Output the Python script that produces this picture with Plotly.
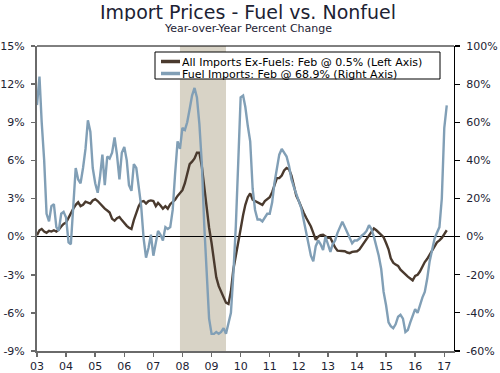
import pandas as pd
import plotly.graph_objects as go

# ---------------- data (monthly, Jan 2003 - Feb 2017) ----------------
start_month = "2003-01-01"

ex_fuel = [  # All Imports Ex-Fuels, YoY % (left axis)
    0.1, 0.5, 0.6, 0.4, 0.3, 0.45, 0.4, 0.5, 0.4, 0.55, 0.8, 1.0,          # 2003
    1.1, 1.5, 1.9, 2.2, 2.5, 2.7, 2.4, 2.5, 2.75, 2.7, 2.6, 2.85,          # 2004
    2.95, 2.8, 2.6, 2.35, 2.2, 2.05, 1.9, 1.4, 1.25, 1.45, 1.55, 1.3,      # 2005
    1.05, 0.85, 0.7, 0.6, 1.3, 1.9, 2.4, 2.75, 2.8, 2.6, 2.8, 2.85,        # 2006
    2.8, 2.4, 2.65, 2.45, 2.2, 2.4, 2.2, 2.55, 2.7, 2.9, 3.2, 3.4,         # 2007
    3.65, 4.2, 4.95, 5.7, 5.9, 6.15, 6.6, 6.6, 5.5, 3.8, 2.1, 0.7,         # 2008
    -0.5, -1.8, -3.2, -3.9, -4.3, -4.8, -5.2, -5.3, -4.3, -2.6, -1.4, -0.6,  # 2009
    0.6, 1.7, 2.5, 3.1, 3.4, 2.9, 2.8, 2.7, 2.6, 2.5, 2.8, 2.95,           # 2010
    3.1, 3.5, 4.0, 4.6, 4.6, 4.8, 5.2, 5.4, 5.3, 4.8, 4.0, 3.2,            # 2011
    2.8, 2.3, 1.9, 1.5, 1.2, 0.8, 0.3, -0.25, 0.0, 0.12, 0.15, 0.05,       # 2012
    -0.1, -0.1, -0.5, -0.85, -1.1, -1.1, -1.1, -1.15, -1.25, -1.3, -1.2, -1.15,  # 2013
    -1.15, -1.0, -0.75, -0.5, -0.2, 0.1, 0.4, 0.65, 0.5, 0.3, 0.1, -0.05,  # 2014
    -0.5, -1.0, -1.7, -2.05, -2.2, -2.3, -2.6, -2.8, -3.0, -3.15, -3.3, -3.45,  # 2015
    -3.1, -3.0, -2.75, -2.3, -2.0, -1.75, -1.4, -1.05, -0.7, -0.45, -0.3, -0.1,  # 2016
    0.2, 0.5,                                                               # 2017
]

fuel = [  # Fuel Imports, YoY % (right axis)
    69, 84, 60, 40, 12, 8, 16, 17, 5, 3, 12, 13,            # 2003
    10, -3, -4, 15, 36, 30, 28, 36, 46, 61, 55, 36,         # 2004
    28, 23, 31, 43, 27, 42, 41, 44, 52, 43, 30, 44,         # 2005
    47, 40, 27, 24, 38, 36, 27, 16, -1, -11, -6, 1,         # 2006
    -10, -3, 3, 1, -2, 5, 4, 5, 14, 33, 50, 46,             # 2007
    57, 56, 60, 67, 74, 78, 73, 59, 38, 6, -19, -43,        # 2008
    -51, -51, -50, -51, -50, -48, -51, -45, -40, -20, 5, 38,  # 2009
    73, 74, 68, 58, 50, 25, 14, 9, 9, 8, 10, 12,            # 2010
    12, 18, 28, 37, 43, 46, 44, 42, 37, 30, 26, 22,         # 2011
    19, 15, 9, 3, -4, -10, -13, -5, -2, -4, -7, 0,          # 2012
    -4, -8, -4, -2, 2, 5, 7.8, 5, 2, -1, -3.5, -2,          # 2013
    -2, -1, 0.5, 1.5, 3, 6, 4, 0, -5, -10, -17, -29,        # 2014
    -36, -45, -47, -48, -46, -42, -41, -43, -50, -49, -45, -42,  # 2015
    -38, -40, -36, -32, -29, -22, -13, -7, -1, 2, 5, 20,    # 2016
    57, 68.9,                                               # 2017
]

recession = ["2007-12-01", "2009-07-01"]
left_ticks = [-9, -6, -3, 0, 3, 6, 9, 12, 15]
right_ticks = [-60, -40, -20, 0, 20, 40, 60, 80, 100]

series_names = [
    "All Imports Ex-Fuels: Feb @ 0.5% (Left Axis)",
    "Fuel Imports: Feb @ 68.9% (Right Axis)",
]
title_text = "Import Prices - Fuel vs. Nonfuel"
subtitle_text = "Year-over-Year Percent Change"

# ---------------- styling ----------------
W, H = 500, 373
ML, MR, MT, MB = 37, 46, 46, 22
BROWN = "#4a3a2e"
BLUE = "#819fb6"
SHADE = "#d8d3c6"
TXT = "#1c2233"
AXG = "#6a6a6a"
FONT = "DejaVu Sans"

pw = W - ML - MR
ph = H - MT - MB


def px_x(p):
    return (p - ML) / pw


def px_y(p):
    return (H - MB - p) / ph


dates = pd.date_range(start_month, periods=len(fuel), freq="MS")

fig = go.Figure()
fig.add_trace(go.Scatter(x=dates, y=ex_fuel, mode="lines", name=series_names[0],
                         line=dict(color=BROWN, width=2.4), yaxis="y",
                         showlegend=False))
fig.add_trace(go.Scatter(x=dates, y=fuel, mode="lines", name=series_names[1],
                         line=dict(color=BLUE, width=2.4), yaxis="y2",
                         showlegend=False))

shapes = [
    dict(type="rect", xref="x", yref="paper", x0=recession[0], x1=recession[1],
         y0=0, y1=1, fillcolor=SHADE, line=dict(width=0), layer="below"),
    dict(type="line", xref="paper", yref="paper", x0=0, x1=1, y0=1, y1=1,
         line=dict(color="black", width=1)),
    # legend box
    dict(type="rect", xref="paper", yref="paper", x0=px_x(155), x1=px_x(440),
         y0=px_y(79), y1=px_y(52), fillcolor="white",
         line=dict(color="black", width=1)),
    dict(type="line", xref="paper", yref="paper", x0=px_x(161), x1=px_x(180),
         y0=px_y(61.5), y1=px_y(61.5), line=dict(color=BROWN, width=3.5)),
    dict(type="line", xref="paper", yref="paper", x0=px_x(161), x1=px_x(180),
         y0=px_y(73.5), y1=px_y(73.5), line=dict(color=BLUE, width=3.5)),
]

annotations = [
    dict(text=title_text, xref="paper", yref="paper", x=px_x(248), y=px_y(11.5),
         xanchor="center", yanchor="middle", showarrow=False, height=19,
         font=dict(family=FONT, size=19, color=TXT)),
    dict(text=subtitle_text, xref="paper", yref="paper", x=px_x(248.5), y=px_y(28),
         xanchor="center", yanchor="middle", showarrow=False, height=12,
         font=dict(family=FONT, size=11, color=TXT)),
    dict(text=series_names[0], xref="paper", yref="paper", x=px_x(180), y=px_y(61.5),
         xanchor="left", yanchor="middle", showarrow=False, height=12,
         font=dict(family=FONT, size=11, color="black")),
    dict(text=series_names[1], xref="paper", yref="paper", x=px_x(180), y=px_y(73.5),
         xanchor="left", yanchor="middle", showarrow=False, height=12,
         font=dict(family=FONT, size=11, color="black")),
]

fig.update_layout(
    width=W, height=H,
    margin=dict(l=ML, r=MR, t=MT, b=MB, pad=0, autoexpand=False),
    paper_bgcolor="white", plot_bgcolor="white",
    font=dict(family=FONT, size=11, color=TXT),
    showlegend=False,
    shapes=shapes,
    annotations=annotations,
    xaxis=dict(
        type="date", range=["2003-01-01", "2017-05-03"],
        tick0="2003-01-01", dtick="M12", tickformat="%y",
        showgrid=False, zeroline=False, automargin=False,
        showline=True, linecolor=AXG, linewidth=2,
        ticks="outside", ticklen=4, tickwidth=1.5, tickcolor=AXG,
        tickfont=dict(family=FONT, size=11, color=TXT),
    ),
    yaxis=dict(
        range=[-9, 15], tickvals=left_ticks,
        ticktext=[f"{v}%" for v in left_ticks],
        showgrid=False, zeroline=True, zerolinecolor="black", zerolinewidth=1,
        showline=True, linecolor=AXG, linewidth=2, automargin=False,
        ticks="outside", ticklen=4, tickwidth=1.5, tickcolor=AXG,
        ticklabelstandoff=4,
        tickfont=dict(family=FONT, size=11, color=TXT),
    ),
    yaxis2=dict(
        range=[-60, 100], tickvals=right_ticks,
        ticktext=[f"{v}%" for v in right_ticks],
        overlaying="y", side="right", automargin=False,
        showgrid=False, zeroline=False,
        showline=True, linecolor="black", linewidth=1,
        ticks="outside", ticklen=5, tickwidth=1.2, tickcolor="black",
        ticklabelstandoff=4,
        tickfont=dict(family=FONT, size=11, color=TXT),
    ),
)

fig.write_html("out.html",
               config={"displayModeBar": False, "staticPlot": True},
               post_script="document.body.style.margin='0';document.body.style.overflow='hidden';")
